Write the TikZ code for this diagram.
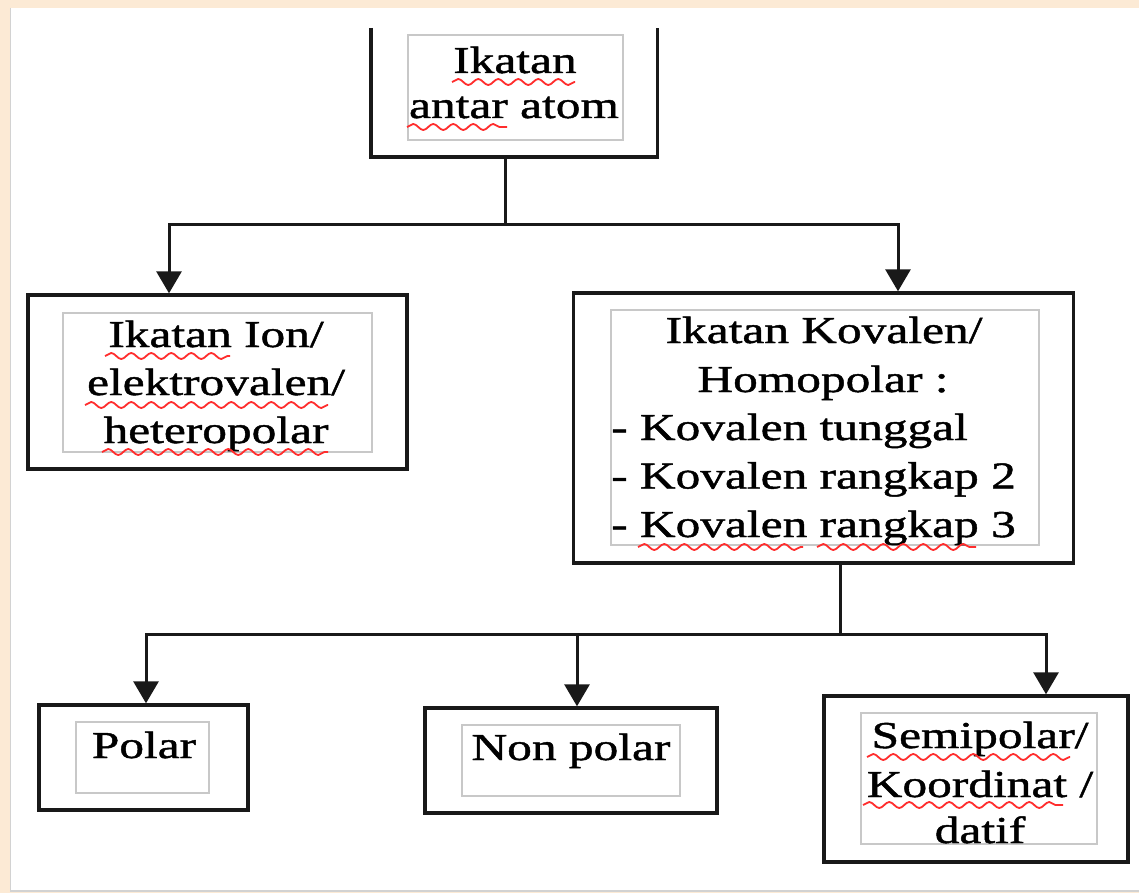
\documentclass[tikz,border=0pt]{standalone}
\usepackage{fontspec}
\setmainfont{Liberation Serif}[FakeStretch=1.3,FakeBold=1.2]
\usetikzlibrary{arrows.meta,decorations.pathmorphing}
\definecolor{beige}{RGB}{252,234,213}
\definecolor{boxline}{RGB}{25,25,25}
\definecolor{innergray}{RGB}{200,200,200}
\definecolor{squig}{RGB}{255,45,45}
\begin{document}
\begin{tikzpicture}[x=1pt,y=-1pt,
  outerbox/.style={draw=boxline, line width=3.4pt, inner sep=0pt},
  hiddenbox/.style={inner sep=0pt},
  innerbox/.style={draw=innergray, line width=1.8pt, inner sep=0pt},
  txt/.style={inner sep=0pt, anchor=base, font=\fontsize{38}{48}\selectfont},
  txtl/.style={txt, anchor=base west},
  conn/.style={draw=boxline, line width=3pt},
  arrowc/.style={conn, -{Triangle[length=22pt,width=25pt]}},
  wavy/.style={draw=squig, line width=1.8pt, decorate,
    decoration={snake, segment length=20pt, amplitude=3pt}}]
\useasboundingbox (0,0) rectangle (1139,893);
\fill[beige] (0,0) rectangle (1139,893);
\fill[white] (10,8) rectangle (1139,891);
\draw[gray!35, line width=1.2pt] (10.5,8) -- (10.5,891) -- (1139,891);

% top box (no top edge)
\node[hiddenbox, minimum width=286pt, minimum height=129pt] (top) at (514,92.5) {};
\draw[boxline, line width=3.4pt] (top.north west) |- (top.south east) -- (top.north east);
\node[innerbox, minimum width=215pt, minimum height=105pt] (topin) at (515.5,87.5) {};
\node[txt] (t1) at (515,73) {Ikatan};
\node[txt] (t2) at (514,118) {antar atom};

% ion box
\node[outerbox, minimum width=379pt, minimum height=174pt] (ion) at (217.5,382) {};
\node[innerbox, minimum width=309pt, minimum height=139pt] (ionin) at (217.5,382.5) {};
\node[txt] (i1) at (216,347) {Ikatan Ion/};
\node[txt] (i2) at (216,395) {elektrovalen/};
\node[txt] (i3) at (216,443) {heteropolar};

% kovalen box
\node[outerbox, minimum width=500pt, minimum height=270pt] (kov) at (823.75,428) {};
\node[innerbox, minimum width=428pt, minimum height=235pt] (kovin) at (825,427.5) {};
\node[txt] (k1) at (824,343) {Ikatan Kovalen/};
\node[txt] (k2) at (823,392) {Homopolar :};
\node[txtl] (k3) at (611,440) {- Kovalen tunggal};
\node[txtl] (k4) at (611,488.5) {- Kovalen rangkap 2};
\node[txtl] (k5) at (611,537) {- Kovalen rangkap 3};

% bottom boxes
\node[outerbox, minimum width=209pt, minimum height=105pt] (polar) at (143.5,757.5) {};
\node[innerbox, minimum width=133pt, minimum height=71pt] (polarin) at (142.5,757.5) {};
\node[txt] (p1) at (144,758) {Polar};

\node[outerbox, minimum width=292pt, minimum height=105pt] (nonpolar) at (571,760.5) {};
\node[innerbox, minimum width=218pt, minimum height=71pt] (nonpolarin) at (571,760.5) {};
\node[txt] (n1) at (571,760) {Non polar};

\node[outerbox, minimum width=304pt, minimum height=166pt] (semi) at (976,779) {};
\node[innerbox, minimum width=236pt, minimum height=131pt] (semiin) at (979,778.5) {};
\node[txt] (s1) at (980,748) {Semipolar/};
\node[txt] (s2) at (980,797) {Koordinat /};
\node[txt] (s3) at (980,843) {datif};

% connectors
\coordinate (j1) at (505,225);
\coordinate (a1) at (169,225);
\coordinate (a2) at (898,225);
\draw[conn] (top.south -| j1) -- (j1);
\draw[arrowc] (j1) -| (a1 |- ion.north);
\draw[arrowc] (j1) -| (a2 |- kov.north);

\coordinate (j2) at (840,634);
\coordinate (b1) at (146,634);
\coordinate (b2) at (577,634);
\coordinate (b3) at (1046,634);
\draw[conn] (kov.south -| j2) -- (j2);
\draw[arrowc] (j2) -| (b1 |- polar.north);
\draw[arrowc] (j2) -| (b2 |- nonpolar.north);
\draw[arrowc] (j2) -| (b3 |- semi.north);

% spell-check underlines
\draw[wavy] (452,82) -- (575,82);
\draw[wavy] (407,127) -- (507,127);
\draw[wavy] (105,356) -- (230,356);
\draw[wavy] (85,405) -- (328,405);
\draw[wavy] (102,452) -- (328,452);
\draw[wavy] (638,547) -- (803,547);
\draw[wavy] (817,547) -- (976,547);
\draw[wavy] (867,757) -- (1070,757);
\draw[wavy] (863,805) -- (1063,805);
\end{tikzpicture}
\end{document}
